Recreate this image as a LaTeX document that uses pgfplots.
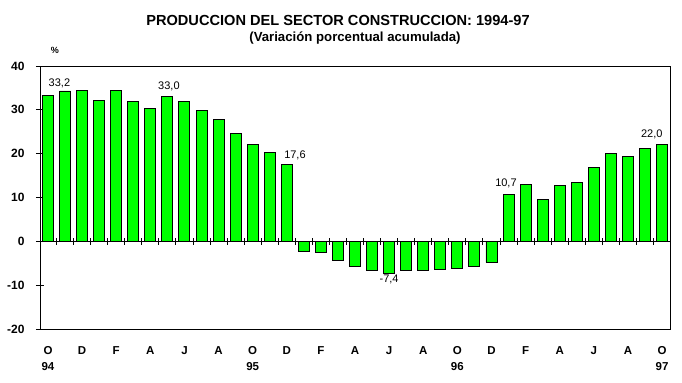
\documentclass[border=0pt]{standalone}
\usepackage{pgfplots}
\pgfplotsset{compat=1.18}
\usepackage{fontspec}
\setmainfont{Liberation Sans}
\definecolor{bargreen}{RGB}{0,255,0}
\begin{document}
\begin{tikzpicture}[x=1bp,y=1bp]
\path[use as bounding box] (0,0) rectangle (682,382);
\node[font=\fontsize{14.6bp}{16bp}\selectfont\bfseries] at (338,362) {PRODUCCION DEL SECTOR CONSTRUCCION: 1994-97};
\node[font=\fontsize{13.2bp}{14bp}\selectfont\bfseries] at (355,344) {(Variación porcentual acumulada)};
\node[font=\fontsize{9bp}{10bp}\selectfont\bfseries] at (55,332) {\%};
\begin{axis}[at={(40bp,53bp)}, anchor=south west, scale only axis,
  width=630bp, height=263bp,
  xmin=-0.469, xmax=36.469, ymin=-20, ymax=40,
  ybar, bar width=11bp,
  axis line style={line width=0.9bp, black},
  ytick={-20,-10,0,10,20,30,40}, yticklabels={-20,-10,0,10,20,30,40},
  ytick pos=left, ytick align=center, major tick length=8bp,
  xtick={0,2,...,36},
  xticklabels={{O\\94},D,F,A,J,A,{O\\95},D,F,A,J,A,{O\\96},D,F,A,J,A,{O\\97}},
  xtick style={draw=none},
  xticklabel style={align=center, font=\fontsize{11.5bp}{16bp}\selectfont\bfseries, yshift=-6bp},
  yticklabel style={font=\fontsize{12bp}{13bp}\selectfont\bfseries, xshift=-8bp},
  ytick style={line width=0.9bp, black},
  clip=false,
]
\addplot[fill=bargreen, draw=black, line width=0.9bp] coordinates {
(0,33.2) (1,34.3) (2,34.5) (3,32.2) (4,34.5) (5,32.0) (6,30.4) (7,33.0) (8,31.8) (9,29.9)
(10,27.9) (11,24.5) (12,22.2) (13,20.2) (14,17.6)
(15,-2.3) (16,-2.5) (17,-4.3) (18,-5.7) (19,-6.6) (20,-7.4) (21,-6.6) (22,-6.6) (23,-6.4)
(24,-6.1) (25,-5.7) (26,-4.8)
(27,10.7) (28,12.9) (29,9.5) (30,12.7) (31,13.4) (32,16.8) (33,20.0) (34,19.3) (35,21.1) (36,22.0)
};
\node[font=\fontsize{11bp}{12bp}\selectfont] at (axis cs:0.67,36.1) {33,2};
\node[font=\fontsize{11bp}{12bp}\selectfont] at (axis cs:7.09,35.4) {33,0};
\node[font=\fontsize{11bp}{12bp}\selectfont] at (axis cs:14.48,19.6) {17,6};
\node[font=\fontsize{11bp}{12bp}\selectfont] at (axis cs:20,-8.8) {-7,4};
\node[font=\fontsize{11bp}{12bp}\selectfont] at (axis cs:26.85,13.2) {10,7};
\node[font=\fontsize{11bp}{12bp}\selectfont] at (axis cs:35.4,24.3) {22,0};
\end{axis}
\begin{axis}[at={(40bp,53bp)}, anchor=south west, scale only axis,
  width=630bp, height=263bp,
  xmin=-0.469, xmax=36.469, ymin=-20, ymax=40,
  axis x line*=middle, axis y line=none,
  xtick={0.5,1.5,...,35.5}, xticklabels={}, ytick=\empty,
  xtick align=center, major tick length=7bp,
  axis line style={line width=0.9bp, black},
  xtick style={line width=0.9bp, black},
]
\addplot[draw=none] coordinates {(0,0)};
\end{axis}
\end{tikzpicture}
\end{document}
